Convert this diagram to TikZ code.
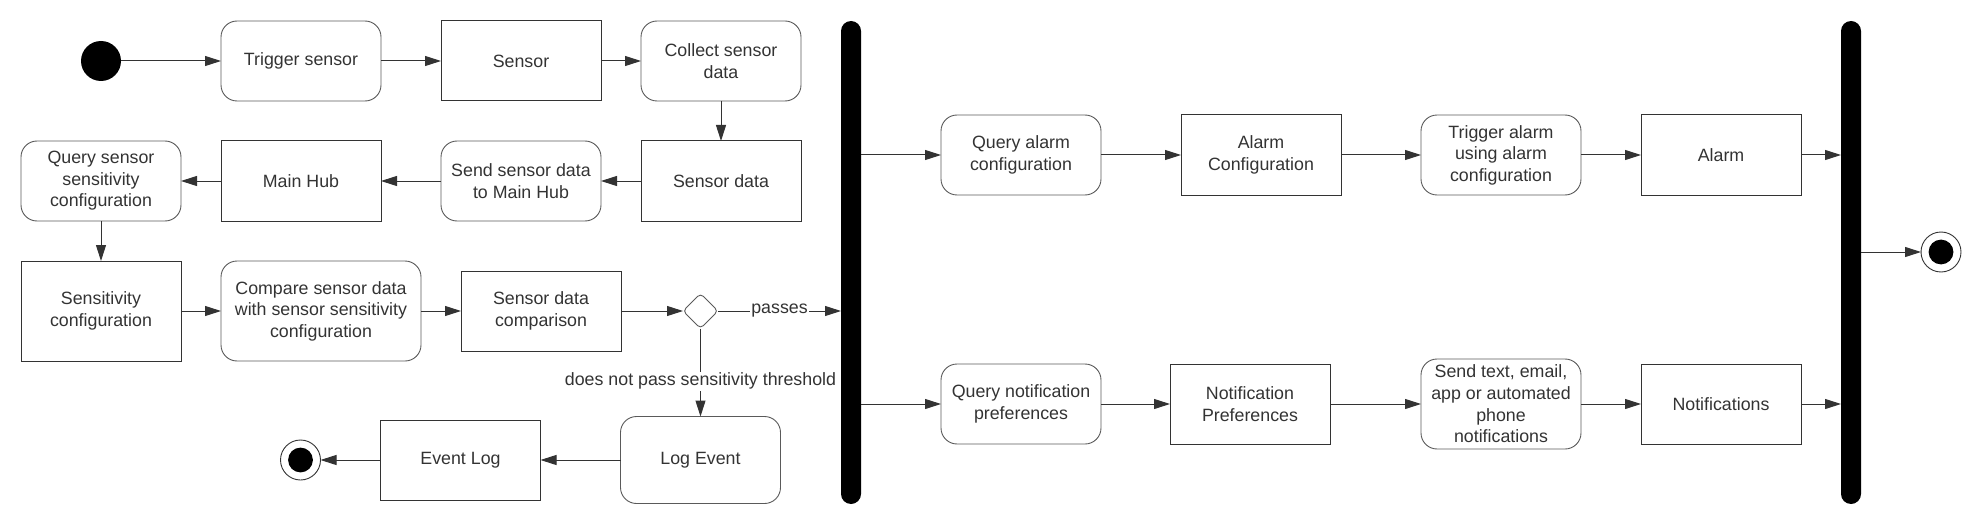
\documentclass[tikz,border=0pt]{standalone}
\usepackage{fontspec}
\setmainfont{Liberation Sans}
\usetikzlibrary{positioning, shapes.geometric, arrows.meta}

\definecolor{linegray}{HTML}{333333}
\definecolor{roundgray}{HTML}{5A5A5A}

\begin{document}
\begin{tikzpicture}[x=0.5pt, y=-0.5pt,
    font=\fontsize{8.9pt}{10.8pt}\selectfont,
    every node/.style={text=linegray, outer sep=0pt},
    action/.style={rectangle, rounded corners=8pt, draw=roundgray, line width=0.45pt, align=center, minimum width=80pt, minimum height=40pt, inner sep=2pt},
    object/.style={rectangle, draw=linegray, line width=0.5pt, align=center, minimum width=80pt, minimum height=40pt, inner sep=2pt},
    startstate/.style={circle, fill=black, minimum size=20pt, inner sep=0pt},
    endstate/.style={circle, draw=linegray, line width=0.45pt, minimum size=20pt, inner sep=0pt,
        path picture={\fill[black] (path picture bounding box.center) circle (6.2pt);}},
    forkbar/.style={rectangle, fill=black, rounded corners=5pt, minimum width=10pt, minimum height=241.5pt, inner sep=0pt},
    decision/.style={diamond, draw=roundgray, line width=0.45pt, rounded corners=2pt, minimum size=17.5pt, inner sep=0pt},
    flow/.style={draw=linegray, line width=0.5pt, -{Triangle[length=8pt, width=5pt]}},
    guard/.style={fill=white, inner sep=0.5pt}]
        \useasboundingbox (0,0) rectangle (1981,524);

        % sensor chain
        \node[startstate] (start) at (101,61) {};
        \node[action] (trigger) [right = 50pt of start] {Trigger sensor};
        \node[object] (sensor) [right = 30pt of trigger] {Sensor};
        \node[action] (collect) [right = 20pt of sensor] {Collect sensor\\data};
        \node[object] (sensorData) [below = 20pt of collect] {Sensor data};
        \node[action] (sendHub) [left = 20pt of sensorData] {Send sensor data\\to Main Hub};
        \node[object] (mainHub) [left = 30pt of sendHub] {Main Hub};
        \node[action] (querySens) [left = 20pt of mainHub] {Query sensor\\sensitivity\\configuration};
        \node[object, minimum height=50pt] (sensConf) [below = 20pt of querySens] {Sensitivity\\configuration};
        \node[action, minimum width=100pt, minimum height=50pt] (compare) [right = 20pt of sensConf] {Compare sensor data\\with sensor sensitivity\\configuration};
        \node[object] (comparison) [right = 20pt of compare] {Sensor data\\comparison};
        \node[decision] (check) [right = 31pt of comparison] {};

        % log branch
        \node[action, minimum height=43.5pt] (logEvent) [below = 44pt of check] {Log Event};
        \node[object] (eventLog) [left = 40pt of logEvent] {Event Log};
        \node[endstate] (endLog) [left = 30pt of eventLog] {};

        % fork and join
        \node[forkbar] (fork) at (851,262.5) {};
        \node[forkbar] (join) at (1851,262.5) {};
        \node[endstate] (endAll) at (1941,252) {};

        % alarm branch
        \node[action] (queryAlarm) at (1021,155) {Query alarm\\configuration};
        \node[object] (alarmConf) [right = 40pt of queryAlarm] {Alarm\\Configuration};
        \node[action] (trigAlarm) [right = 40pt of alarmConf] {Trigger alarm\\using alarm\\configuration};
        \node[object] (alarm) [right = 30pt of trigAlarm] {Alarm};

        % notification branch
        \node[action] (queryNotif) at (1021,404) {Query notification\\preferences};
        \node[object] (notifPref) [right = 34.5pt of queryNotif] {Notification\\Preferences};
        \node[action, minimum height=45pt] (sendText) [right = 45.5pt of notifPref] {Send text, email,\\app or automated\\phone\\notifications};
        \node[object] (notifs) [right = 30pt of sendText] {Notifications};

        \draw[flow] (start) -- (trigger);
        \draw[flow] (trigger) -- (sensor);
        \draw[flow] (sensor) -- (collect);
        \draw[flow] (collect) -- (sensorData);
        \draw[flow] (sensorData) -- (sendHub);
        \draw[flow] (sendHub) -- (mainHub);
        \draw[flow] (mainHub) -- (querySens);
        \draw[flow] (querySens) -- (sensConf);
        \draw[flow] (sensConf) -- (compare);
        \draw[flow] (compare) -- (comparison);
        \draw[flow] (comparison) -- (check);
        \draw[flow] (check) -- node[guard] {passes} (check -| fork.west);
        \draw[flow] (check) -- node[guard, pos=0.6] {does not pass sensitivity threshold} (logEvent);
        \draw[flow] (logEvent) -- (eventLog);
        \draw[flow] (eventLog) -- (endLog);

        \draw[flow] (queryAlarm -| fork.east) -- (queryAlarm);
        \draw[flow] (queryAlarm) -- (alarmConf);
        \draw[flow] (alarmConf) -- (trigAlarm);
        \draw[flow] (trigAlarm) -- (alarm);
        \draw[flow] (alarm) -- (alarm -| join.west);

        \draw[flow] (queryNotif -| fork.east) -- (queryNotif);
        \draw[flow] (queryNotif) -- (notifPref);
        \draw[flow] (notifPref) -- (sendText);
        \draw[flow] (sendText) -- (notifs);
        \draw[flow] (notifs) -- (notifs -| join.west);

        \draw[flow] (endAll -| join.east) -- (endAll);
      \end{tikzpicture}
\end{document}
